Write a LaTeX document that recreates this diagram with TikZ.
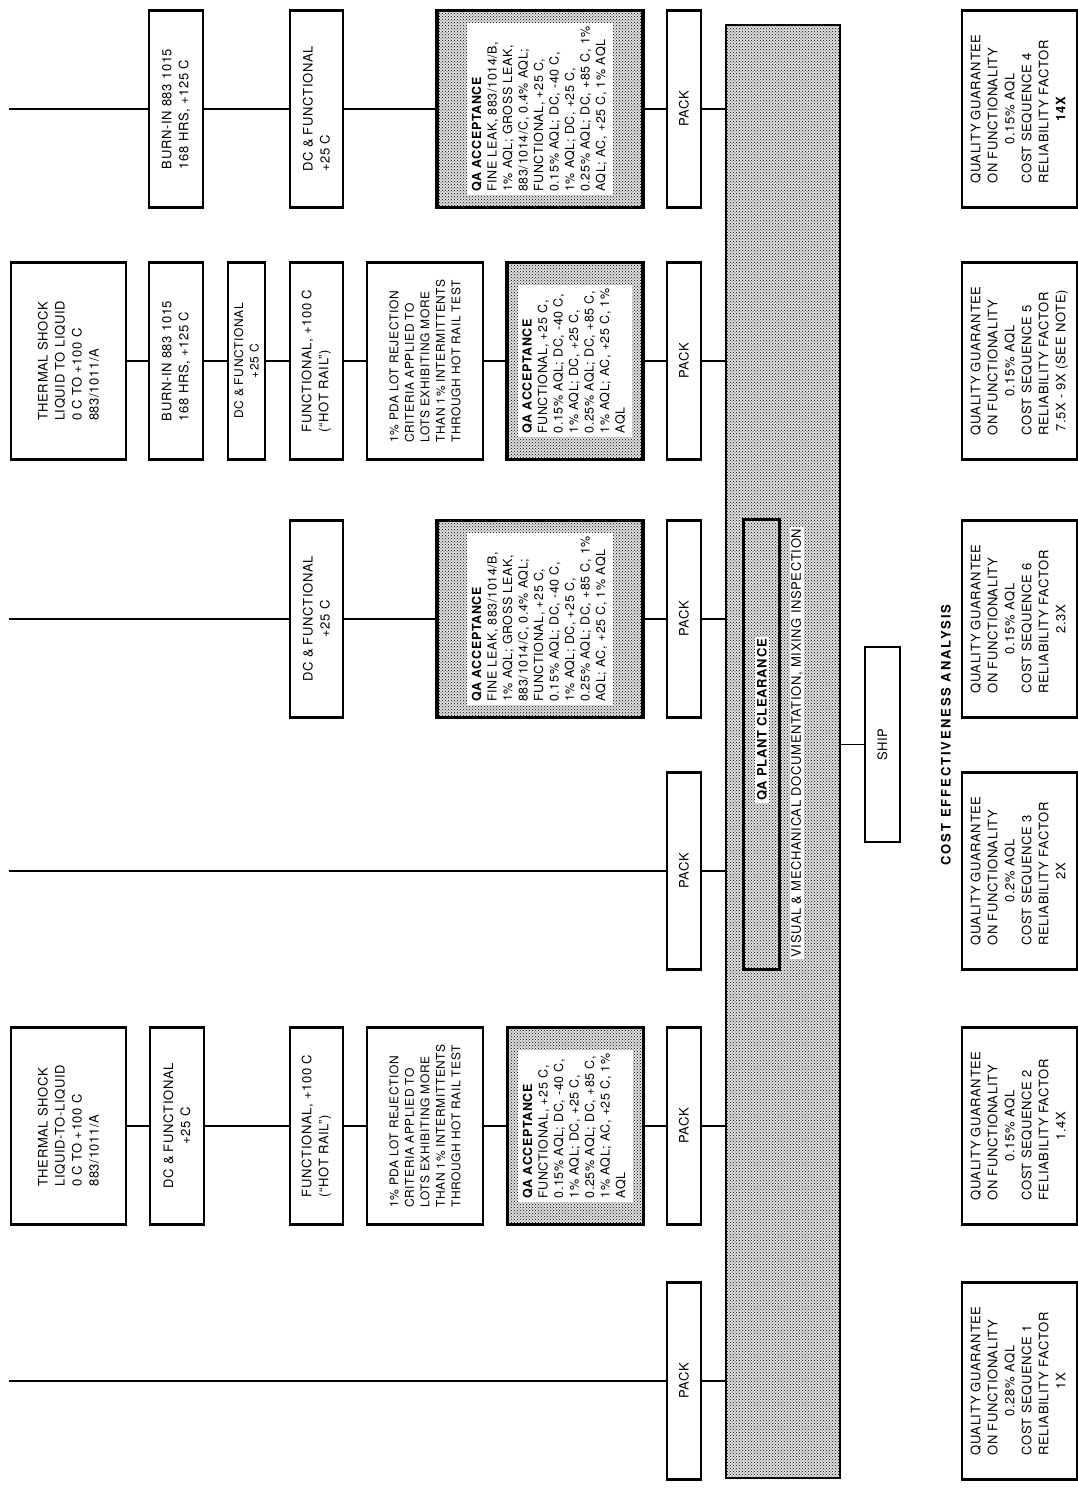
\documentclass[tikz,border=0pt]{standalone}
\usepackage{fontspec}
\setmainfont{TeX Gyre Heros}[LetterSpace=5]
\usetikzlibrary{patterns}

\renewcommand{\normalsize}{\fontsize{13}{17}\selectfont}
\AtBeginDocument{\normalsize}

% reliability summary under each sequence
\newcommand{\guarantee}[4]{%
  \begin{tabular}{@{}l@{}}
    QUALITY GUARANTEE\\
    ON FUNCTIONALITY\\
    \multicolumn{1}{@{}c@{}}{#1 AQL}\\
    COST SEQUENCE #2\\
    #3 FACTOR\\
    \multicolumn{1}{@{}c@{}}{#4}
  \end{tabular}}

% QA acceptance lists (white block on the dotted box)
\newcommand{\qashort}{\colorbox{white}{\begin{tabular}{@{}l@{}}
  \textbf{QA ACCEPTANCE}\\
  FUNCTIONAL, +25 C,\\
  0.15\% AQL; DC, -40 C,\\
  1\% AQL; DC, +25 C,\\
  0.25\% AQL; DC, +85 C,\\
  1\% AQL; AC, +25 C, 1\%\\
  AQL
\end{tabular}}}
\newcommand{\qalong}{\colorbox{white}{\begin{tabular}{@{}l@{}}
  \textbf{QA ACCEPTANCE}\\
  FINE LEAK, 883/1014/B,\\
  1\% AQL; GROSS LEAK,\\
  883/1014/C, 0.4\% AQL;\\
  FUNCTIONAL, +25 C,\\
  0.15\% AQL; DC, -40 C,\\
  1\% AQL; DC, +25 C,\\
  0.25\% AQL; DC, +85 C, 1\%\\
  AQL; AC, +25 C, 1\% AQL
\end{tabular}}}
\newcommand{\pdatext}{1\% PDA LOT REJECTION\\CRITERIA APPLIED TO\\LOTS EXHIBITING MORE\\THAN 1\% INTERMITTENTS\\THROUGH HOT RAIL TEST}

\begin{document}
\begin{tikzpicture}[
    x=1pt, y=-1pt,
    line width=1.2pt,
    test box/.style={draw, rotate=90, line width=2.6pt, minimum width=197pt, inner sep=3pt},
    dense box/.style={test box, font=\fontsize{12}{15.5}\selectfont},
    qa box/.style={test box, line width=3.2pt, inner sep=0pt,
      preaction={fill=black!12}, pattern=crosshatch dots,
      font=\fontsize{12.5}{15.5}\selectfont},
    pack box/.style={test box, minimum height=34pt},
    result box/.style={test box, minimum height=115pt},
    shaded/.style={draw, line width=2.6pt, preaction={fill=black!12}, pattern=crosshatch dots}]

  \useasboundingbox (0,0) rectangle (1078,1494);

  % plant clearance bar and shipping
  \node[shaded, minimum width=114pt, minimum height=1453pt] (clear) at (783,751.5) {};
  \node[shaded, rotate=90, line width=3pt, minimum width=450pt, minimum height=36pt] (plant) at (761,744) {};
  \node[rotate=90, fill=white, inner sep=2pt, font=\bfseries] (plantname) at (762,720) {QA PLANT CLEARANCE};
  \node[rotate=90, fill=white, inner sep=1.5pt] (visual) at (797,743) {VISUAL \& MECHANICAL DOCUMENTATION, MIXING INSPECTION};
  \node[test box, minimum width=195pt, minimum height=35pt] (ship) at (882.5,744.5) {SHIP};
  \node[rotate=90, font=\bfseries\addfontfeature{LetterSpace=15}] (cea) at (946,735) {COST EFFECTIVENESS ANALYSIS};

  % sequence 4
  \coordinate (in4) at (9,109);
  \node[test box, minimum height=54pt, align=left] (burn4) at (176,109) {BURN-IN 883 1015\\168 HRS, +125 C};
  \node[test box, minimum height=53pt, align=left] (dcf4) at (316.5,109) {DC \& FUNCTIONAL\\+25 C};
  \node[qa box, minimum height=206pt] (qa4) at (540,109) {\qalong};
  \node[pack box] (pack4) at (684,109) {PACK};
  \node[result box] (qg4) at (1019.5,109) {\guarantee{0.15\%}{4}{RELIABILITY}{\textbf{14X}}};

  % sequence 5
  \node[result box, align=left] (shock5) at (68.5,361) {THERMAL SHOCK\\LIQUID TO LIQUID\\0 C TO +100 C\\883/1011/A};
  \node[test box, minimum height=54pt, align=left] (burn5) at (176,361) {BURN-IN 883 1015\\168 HRS, +125 C};
  \node[dense box, minimum height=37pt, inner sep=1pt, align=center] (dcf5) at (246.5,361) {DC \& FUNCTIONAL\\+25 C};
  \node[test box, minimum height=53pt, align=left] (hot5) at (316.5,361) {FUNCTIONAL, +100 C\\(``HOT RAIL'')};
  \node[dense box, minimum height=116pt, align=left] (pda5) at (425,361) {\pdatext};
  \node[qa box, minimum height=136pt] (qa5) at (575,361) {\qashort};
  \node[pack box] (pack5) at (684,361) {PACK};
  \node[result box] (qg5) at (1019.5,361) {\guarantee{0.15\%}{5}{RELIABILITY}{7.5X - 9X (SEE NOTE)}};

  % sequence 6
  \coordinate (in6) at (9,619);
  \node[test box, minimum height=53pt, align=center] (dcf6) at (316.5,619) {DC \& FUNCTIONAL\\+25 C};
  \node[qa box, minimum height=206pt] (qa6) at (540,619) {\qalong};
  \node[pack box] (pack6) at (684,619) {PACK};
  \node[result box] (qg6) at (1019.5,619) {\guarantee{0.15\%}{6}{RELIABILITY}{2.3X}};

  % sequence 3
  \coordinate (in3) at (9,871);
  \node[pack box] (pack3) at (684,871) {PACK};
  \node[result box] (qg3) at (1019.5,871) {\guarantee{0.2\%}{3}{RELIABILITY}{2X}};

  % sequence 2
  \node[result box, align=left] (shock2) at (68.5,1126) {THERMAL SHOCK\\LIQUID-TO-LIQUID\\0 C TO +100 C\\883/1011/A};
  \node[test box, minimum height=54pt, align=center] (dcf2) at (177,1126) {DC \& FUNCTIONAL\\+25 C};
  \node[test box, minimum height=53pt, align=left] (hot2) at (316.5,1126) {FUNCTIONAL, +100 C\\(``HOT RAIL'')};
  \node[dense box, minimum height=116pt, align=left] (pda2) at (425,1126) {\pdatext};
  \node[qa box, minimum height=136pt] (qa2) at (575.5,1126) {\qashort};
  \node[pack box] (pack2) at (684,1126) {PACK};
  \node[result box] (qg2) at (1019.5,1126) {\guarantee{0.15\%}{2}{FELIABILITY}{1.4X}};

  % sequence 1
  \coordinate (in1) at (9,1381);
  \node[pack box] (pack1) at (684,1381) {PACK};
  \node[result box] (qg1) at (1019.5,1381) {\guarantee{0.28\%}{1}{RELIABILITY}{1X}};

  % flow lines into the clearance bar
  \draw (in4) -- (burn4) -- (dcf4) -- (qa4) -- (pack4) -- (pack4 -| clear.west);
  \draw (shock5) -- (burn5) -- (dcf5) -- (hot5) -- (pda5) -- (qa5) -- (pack5) -- (pack5 -| clear.west);
  \draw (in6) -- (dcf6) -- (qa6) -- (pack6) -- (pack6 -| clear.west);
  \draw (in3) -- (pack3) -- (pack3 -| clear.west);
  \draw (shock2) -- (dcf2) -- (hot2) -- (pda2) -- (qa2) -- (pack2) -- (pack2 -| clear.west);
  \draw (in1) -- (pack1) -- (pack1 -| clear.west);
  \draw (clear.east |- ship) -- (ship);
\end{tikzpicture}
\end{document}
